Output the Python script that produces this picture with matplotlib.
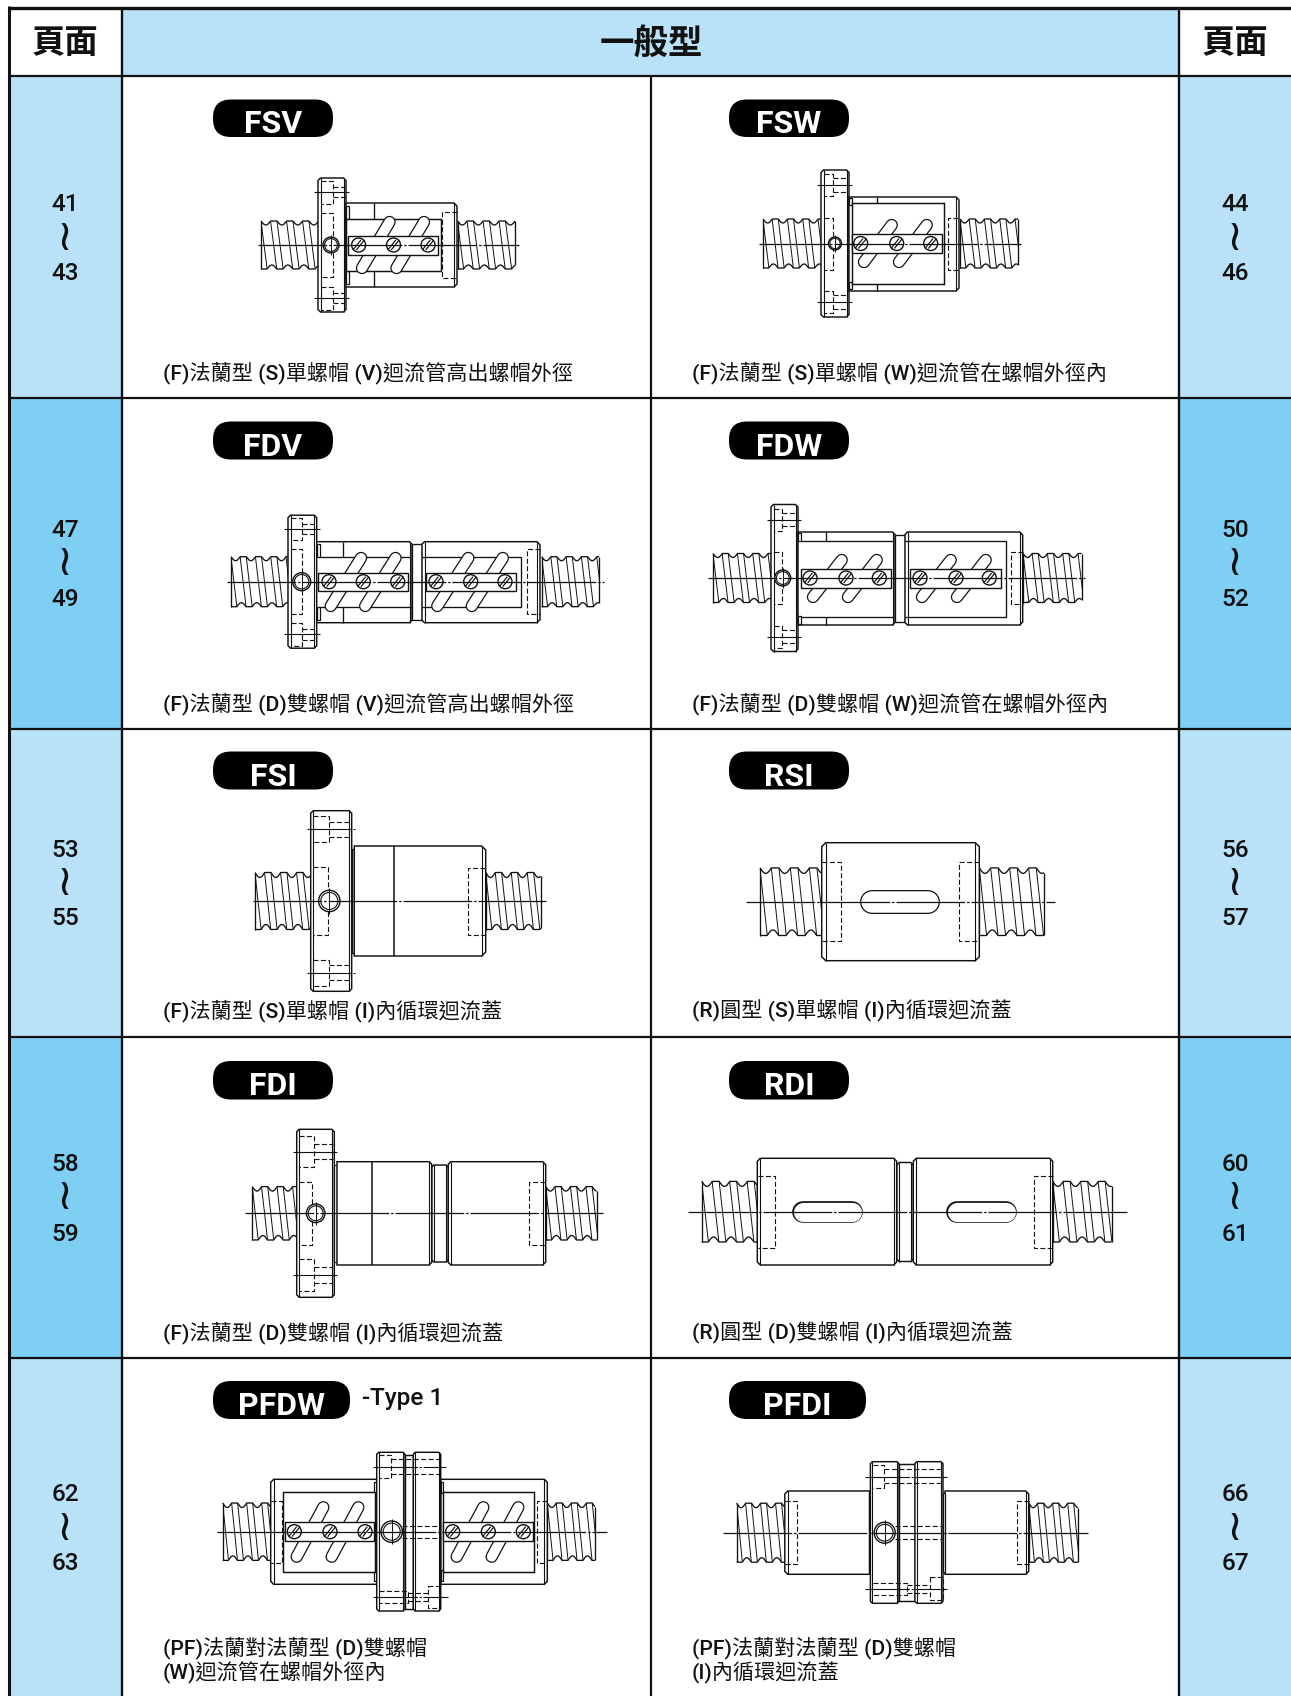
import numpy as np
import matplotlib
matplotlib.use('Agg')
import matplotlib.pyplot as plt
from matplotlib.patches import Rectangle, Circle, FancyBboxPatch

W, H = 1291, 1696
LIGHT = '#b9e2f9'
DARK = '#7fcff4'
INK = '#111111'

HEADER_SIDE = '頁面'
HEADER_MID = '一般型'
ROW_LINES = [76, 398, 729, 1037, 1358, 1696]
ROW_FILL = [LIGHT, DARK, LIGHT, DARK, LIGHT]

PAGES_LEFT = [('41', '43'), ('47', '49'), ('53', '55'), ('58', '59'), ('62', '63')]
PAGES_RIGHT = [('44', '46'), ('50', '52'), ('56', '57'), ('60', '61'), ('66', '67')]
PAGE_Y = [(203, 238, 272), (529, 563, 598), (849, 883, 917), (1163, 1197, 1233), (1493, 1528, 1562)]

NAMES_LEFT = ['FSV', 'FDV', 'FSI', 'FDI', 'PFDW']
NAMES_RIGHT = ['FSW', 'FDW', 'RSI', 'RDI', 'PFDI']
PILL_Y = [(99.5, 137), (421.5, 459.5), (751.5, 789.5), (1061, 1099.5), (1381, 1419)]

CAPTIONS_LEFT = ['(F)法蘭型 (S)單螺帽 (V)迴流管高出螺帽外徑',
                 '(F)法蘭型 (D)雙螺帽 (V)迴流管高出螺帽外徑',
                 '(F)法蘭型 (S)單螺帽 (I)內循環迴流蓋',
                 '(F)法蘭型 (D)雙螺帽 (I)內循環迴流蓋',
                 '(PF)法蘭對法蘭型 (D)雙螺帽\n(W)迴流管在螺帽外徑內']
CAPTIONS_RIGHT = ['(F)法蘭型 (S)單螺帽 (W)迴流管在螺帽外徑內',
                  '(F)法蘭型 (D)雙螺帽 (W)迴流管在螺帽外徑內',
                  '(R)圓型 (S)單螺帽 (I)內循環迴流蓋',
                  '(R)圓型 (D)雙螺帽 (I)內循環迴流蓋',
                  '(PF)法蘭對法蘭型 (D)雙螺帽\n(I)內循環迴流蓋']
CAPTION_Y = [373, 704, 1011, 1333, 1660]

plt.rcParams['font.family'] = ['Roboto', 'Noto Sans CJK TC', 'DejaVu Sans']

fig = plt.figure(figsize=(W / 100, H / 100), dpi=100)
ax = fig.add_axes([0, 0, 1, 1])
ax.set_xlim(0, W)
ax.set_ylim(H, 0)
ax.axis('off')


def seg(xs, ys, lw=0.95, ls='-', z=3, color=INK):
    return ax.plot(xs, ys, color=color, lw=lw, ls=ls, zorder=z, solid_capstyle='butt',
                   dash_capstyle='butt')[0]


def dashed(xs, ys, z=4):
    seg(xs, ys, lw=0.8, ls=(0, (4.5, 2.2)), z=z)


def center(x0, x1, cy):
    seg([x0, x1], [cy, cy], lw=0.9, ls=(0, (55, 1.5, 2, 1.5)), z=8)


def tick(x0, x1, y):
    seg([x0, x1], [y, y], lw=0.8, ls=(0, (40, 1.5, 2, 1.5)), z=8)


def screw(x0, x1, cy, hh, pitch=15.3, depth=4, phase=0):
    lean = 0.38 * pitch
    xs = np.linspace(x0, x1, 240)
    t = ((xs - x0 - phase) / pitch) % 1
    top = cy - hh + np.where(t < 0.6, depth * np.sin(np.pi * np.minimum(t, 0.6) / 0.6), 0)
    t = ((xs - x0 - phase - lean) / pitch) % 1
    bot = cy + hh - np.where(t < 0.6, depth * np.sin(np.pi * np.minimum(t, 0.6) / 0.6), 0)
    seg(xs, top, z=2)
    seg(xs, bot, z=2)
    seg([x0, x0], [top[0], bot[0]], z=2)
    seg([x1, x1], [top[-1], bot[-1]], z=2)
    clip = Rectangle((x0, cy - hh - 1), x1 - x0, 2 * hh + 2, transform=ax.transData)
    k = -3
    while x0 + phase + k * pitch < x1:
        for f in (0, 0.6):
            a = x0 + phase + (k + f) * pitch
            ln = seg([a, a + lean], [cy - hh + 0.5, cy + hh - 0.5], lw=0.7, z=2)
            ln.set_clip_path(clip)
        k += 1


def body(x0, x1, y0, y1, cl=0, cr=0, z=3):
    px = [x0 + cl, x1 - cr, x1, x1, x1 - cr, x0 + cl, x0, x0, x0 + cl]
    py = [y0, y0, y0 + cr, y1 - cr, y1, y1, y1 - cl, y0 + cl, y0]
    ax.fill(px, py, facecolor='white', edgecolor=INK, lw=1.05, zorder=z)
    if cl:
        seg([x0 + cl, x0 + cl], [y0, y1], lw=0.8, z=z)
    if cr:
        seg([x1 - cr, x1 - cr], [y0, y1], lw=0.8, z=z)


def dash_box(x0, x1, y0, y1, open_side=None):
    if open_side == 'right':
        dashed([x1, x0, x0, x1], [y0, y0, y1, y1])
    elif open_side == 'left':
        dashed([x0, x1, x1, x0], [y0, y0, y1, y1])
    else:
        dashed([x0, x1, x1, x0, x0], [y0, y0, y1, y1, y0])


def hole(x, cy, r):
    ax.add_patch(Circle((x, cy), r, fc='white', ec=INK, lw=1.0, zorder=5))
    ax.add_patch(Circle((x, cy), r * 0.8, fc='none', ec=INK, lw=0.8, zorder=5))
    seg([x, x], [cy - r - 2, cy + r + 2], lw=0.7, z=5)


def flange(x0, x1, cy, hh, xm, tk, box_h, dh, hx, hr, dx1, dash_hh):
    body(x0, x1, cy - hh, cy + hh, 2.5, 2.5)
    for sgn in (-1, 1):
        yc = cy + sgn * tk
        dash_box(x0 + 2.5, xm, yc - box_h, yc + box_h, 'left')
        dashed([xm, x1 - 1], [yc - dh, yc - dh])
        dashed([xm, x1 - 1], [yc + dh, yc + dh])
        tick(x0 - 4, x1 + 3, yc)
    dash_box(x0 + 2.5, dx1, cy - dash_hh, cy + dash_hh, 'left')
    hole(hx, cy, hr)


def capsule(x0, y0, x1, y1, r=6.2):
    w = 2 * r * 0.72
    ax.plot([x0, x1], [y0, y1], color=INK, lw=w, solid_capstyle='round', zorder=4)
    ax.plot([x0, x1], [y0, y1], color='white', lw=w - 1.8, solid_capstyle='round', zorder=4.1)


def slot_screw(x, cy, r=7):
    ax.add_patch(Circle((x, cy), r, fc='white', ec=INK, lw=1.0, zorder=6))
    for off in (-1.7, 1.7):
        dx = r * 0.58
        dy = r * 0.72
        seg([x - dx + off, x + dx + off], [cy + dy, cy - dy], lw=0.85, z=6)


def plate(x0, x1, cy, hh, screws, tubes, ty0, ty1, r=6.2):
    for xt, xb in tubes:
        capsule(xt, ty0, xb, ty1, r)
    ax.add_patch(Rectangle((x0, cy - hh), x1 - x0, 2 * hh, fc='white', ec=INK, lw=1.0, zorder=5))
    for sx in screws:
        slot_screw(sx, cy)


def slot(x0, x1, y0, y1):
    r = (y1 - y0) / 2
    capsule(x0 + r, (y0 + y1) / 2, x1 - r, (y0 + y1) / 2, r)


def vline(x, y0, y1, lw=0.95, z=4):
    seg([x, x], [y0, y1], lw=lw, z=z)


def step(x0, x1, y0, y1):
    ax.add_patch(Rectangle((x0, y0), x1 - x0, y1 - y0, fc='white', ec=INK, lw=0.9, zorder=3))


# table background and grid
ax.add_patch(Rectangle((122, 8), W - 122, 68, fc=LIGHT, ec='none', zorder=0))
ax.add_patch(Rectangle((1179, 8), W - 1179, 68, fc='white', ec='none', zorder=0.5))
for i, c in enumerate(ROW_FILL):
    ax.add_patch(Rectangle((9, ROW_LINES[i]), 113, ROW_LINES[i + 1] - ROW_LINES[i], fc=c, ec='none', zorder=0))
    ax.add_patch(Rectangle((1179, ROW_LINES[i]), W - 1179, ROW_LINES[i + 1] - ROW_LINES[i], fc=c, ec='none', zorder=0))
ax.plot([8.5, W], [7.5, 7.5], color=INK, lw=2.4, zorder=1, solid_capstyle='butt')
ax.plot([9, 9], [6, H], color=INK, lw=2.2, zorder=1, solid_capstyle='butt')
for y in ROW_LINES[:-1]:
    ax.plot([9, W], [y, y], color=INK, lw=1.6, zorder=1, solid_capstyle='butt')
for x in (122, 1179):
    ax.plot([x, x], [7, H], color=INK, lw=1.7, zorder=1, solid_capstyle='butt')
ax.plot([651, 651], [76, H], color=INK, lw=1.6, zorder=1, solid_capstyle='butt')

# header
ax.text(65, 44, HEADER_SIDE, ha='center', va='center', fontsize=24, fontweight='bold',
        family=['Noto Sans CJK TC'], color=INK)
ax.text(1235, 44, HEADER_SIDE, ha='center', va='center', fontsize=24, fontweight='bold',
        family=['Noto Sans CJK TC'], color=INK)
ax.text(651, 44, HEADER_MID, ha='center', va='center', fontsize=24.8, fontweight='bold',
        family=['Noto Sans CJK TC'], color=INK)

# page numbers
for pages, x in ((PAGES_LEFT, 65), (PAGES_RIGHT, 1235)):
    for (a, b), (y0, y1, y2) in zip(pages, PAGE_Y):
        ax.text(x, y0 + 1.5, a, ha='center', va='center', fontsize=17.5, fontweight='medium', color=INK)
        ax.text(x, y1, '≀', ha='center', va='center', fontsize=31,
                family=['DejaVu Sans'], color=INK)
        ax.text(x, y2 + 1.5, b, ha='center', va='center', fontsize=17.5, fontweight='medium', color=INK)

# name pills
for names, x0 in ((NAMES_LEFT, 213), (NAMES_RIGHT, 729)):
    for name, (y0, y1) in zip(names, PILL_Y):
        wd = 120 if len(name) == 3 else 137
        ax.add_patch(FancyBboxPatch((x0, y0), wd, y1 - y0, boxstyle='round,pad=0,rounding_size=18',
                                    fc='black', ec='none', zorder=5))
        ax.text(x0 + wd / 2, (y0 + y1) / 2 + 6, name, ha='center', va='center', fontsize=23,
                fontweight='bold', color='white', zorder=6)
ax.text(362, 1399, '-Type 1', ha='left', va='center', fontsize=17.6, fontweight='medium', color=INK)

# captions
for caps, x in ((CAPTIONS_LEFT, 163), (CAPTIONS_RIGHT, 692)):
    for cap, y in zip(caps, CAPTION_Y):
        ax.text(x, y, cap, ha='left', va='center', fontsize=15.2, fontweight='medium',
                color=INK, linespacing=1.17)

# FSV
cy = 245
screw(261, 318, cy, 24, pitch=16)
screw(457.5, 515, cy, 24, pitch=16)
flange(318, 346, cy, 67, 332.5, 53, 11.5, 4.7, 331, 8, 332.5, 32)
body(346, 457, 203, 287, 0, 3)
step(346, 349, 206, 219)
step(346, 349, 271, 284)
body(346, 441, 219, 271, z=3.2)
vline(373.7, 203, 219)
vline(373.7, 271, 287)
plate(348, 438, cy, 9.5, [358.6, 393.5, 428], [(389.5, 362), (424, 396.5)], 222, 268)
dash_box(442, 456.5, 212, 278, 'right')
center(257.5, 518.5, cy)

# FSW
cy = 243.5
screw(763, 822, cy, 24.5)
screw(960, 1018, cy, 24.5)
flange(821, 849, cy, 73.5, 833.3, 58.5, 11, 6.7, 835, 6.5, 832.7, 26)
body(849, 959, 197, 291, 0, 3)
step(849, 852, 198, 205)
step(849, 852, 282, 289)
body(851.7, 944, 202.5, 284, z=3.2)
vline(876.7, 197, 202.5)
vline(876.7, 284, 291)
plate(851.7, 941.7, cy, 9.5, [860.7, 896.7, 930.7], [(891.7, 864), (926.7, 899)], 225, 262)
dash_box(947.7, 958, cy - 26, cy + 26, 'right')
center(759, 1021, cy)

# FDV
cy = 581.7
screw(231, 288, cy, 25)
screw(541.7, 599, cy, 25)
flange(288, 316.7, cy, 66.5, 301.7, 52.7, 11.3, 5.3, 301.7, 9, 301.7, 32.5)
body(422, 540, 541.7, 622.7, 2.5, 3)
body(316.7, 412, 541.7, 622.7, 0, 2.5)
step(316.7, 319.5, 544, 557)
step(316.7, 319.5, 607, 620)
seg([412, 422, 422, 412], [544, 544, 620, 620], z=2.5)
vline(412, 544, 620)
seg([319, 412], [557, 557], z=3.2)
seg([319, 412], [607, 607], z=3.2)
seg([422, 520.7, 520.7, 422], [557, 557, 607, 607], z=3.2)
vline(343, 541.7, 557)
vline(343, 607, 622.7)
plate(318.3, 408.3, cy, 9, [329, 363.3, 397.7], [(361, 330.7), (395.5, 365.2)], 558, 606)
plate(425.7, 515.7, cy, 9, [436, 470.7, 505], [(468.3, 437.3), (502.8, 471.8)], 558, 606)
dash_box(526.7, 540, 549, 614, 'right')
center(226.7, 604, cy)

# FDW
cy = 578
screw(713, 771, cy, 24.5)
screw(1023, 1081.7, cy, 24.5)
flange(771, 798, cy, 73.5, 782.3, 58.5, 11, 6.7, 782.7, 8, 781.5, 26)
body(905, 1022.7, 532, 625, 2.5, 3)
body(798, 895, 532, 625, 0, 2.5)
step(798, 801, 533, 541)
step(798, 801, 616, 624)
seg([895, 905, 905, 895], [535, 535, 622, 622], z=2.5)
vline(895, 535, 622)
seg([801, 894], [540.7, 540.7], z=3.2)
seg([801, 894], [617, 617], z=3.2)
seg([905, 1005.7, 1005.7, 905], [540.7, 540.7, 617, 617], z=3.2)
vline(825.7, 532, 540.7)
vline(825.7, 617, 625)
plate(800.7, 890.7, cy, 9.5, [810, 846, 879.3], [(841.7, 813), (876.7, 848)], 560, 597)
plate(910, 1000.7, cy, 9.5, [920, 956, 989.3], [(950.7, 922), (985.7, 957)], 560, 597)
dash_box(1011, 1022.7, cy - 26, cy + 26, 'right')
center(708, 1085, cy)

# FSI
cy = 901
screw(255, 310.7, cy, 28.5, pitch=16, depth=5)
screw(485.7, 540.7, cy, 28.5, pitch=16, depth=5)
flange(310.7, 351.7, cy, 90.3, 329.3, 71.7, 13, 7.5, 329.3, 10.7, 327.7, 34)
step(351.7, 354.3, 849, 953)
body(354.3, 485.7, 846, 956, 0, 4)
vline(394.3, 846, 956, lw=1.1)
dash_box(468.3, 485, cy - 33.5, cy + 33.5, 'right')
center(253, 546, cy)

# RSI
cy = 901.7
screw(760, 821.7, cy, 33.8, pitch=19, depth=5.5)
screw(979.3, 1044, cy, 33.8, pitch=19, depth=5.5)
body(821.7, 979.3, 842.7, 960.7, 4, 4)
dash_box(822, 841, 862, 941, 'left')
dash_box(958.7, 979, 862, 941, 'right')
slot(860, 940, 890, 914)
center(745.7, 1055, cy)

# FDI
cy = 1213.3
screw(252.3, 296.7, cy, 26.7, pitch=15.5, depth=4.5)
screw(545.7, 596.7, cy, 26.7, pitch=15.5, depth=4.5)
flange(296.7, 334.3, cy, 84, 314, 61.7, 15.7, 7.7, 315.7, 9.3, 312.3, 31.3)
step(334.3, 337, 1165, 1262)
body(431.7, 448.3, 1165, 1262, 2.2, 2.2, z=2.8)
body(337, 431.7, 1161.7, 1265, 0, 2.5)
body(448.3, 545.7, 1161.7, 1265, 2.5, 3)
vline(371.7, 1161.7, 1265, lw=1.1)
dash_box(529.3, 545, cy - 31.3, cy + 31.3, 'right')
center(245, 602.7, cy)

# RDI
cy = 1211.7
screw(701.7, 757.3, cy, 30.3, pitch=17.5, depth=5)
screw(1052.7, 1111.7, cy, 30.3, pitch=17.5, depth=5)
body(896.7, 913.3, 1162.5, 1261.5, 2.5, 2.5, z=2.8)
body(757.3, 896.7, 1158.3, 1265, 3, 3)
body(913.3, 1052.7, 1158.3, 1265, 3, 3)
dash_box(757.5, 775, 1176, 1247.7, 'left')
dash_box(1034.3, 1052.5, 1176, 1247.7, 'right')
slot(792.3, 863.3, 1201, 1222.7)
slot(946, 1017.3, 1201, 1222.7)
center(688.3, 1126.7, cy)

# PFDW
cy = 1531.7
screw(222.7, 270.7, cy, 28.7, pitch=15, depth=4.5)
screw(547.3, 595, cy, 28.7, pitch=15, depth=4.5)
body(270.7, 376.7, 1479.3, 1584.3, 3, 0)
body(440.7, 547.3, 1479.3, 1584.3, 0, 3)
body(283.3, 375, 1492.3, 1571.7, z=3.2)
body(443.3, 534.3, 1492.3, 1571.7, z=3.2)
step(374, 376.7, 1482, 1493)
step(374, 376.7, 1570, 1581)
step(440.7, 443.3, 1482, 1493)
step(440.7, 443.3, 1570, 1581)
body(405, 413.3, 1455, 1609, z=2.8)
body(376.7, 405, 1452.3, 1611, 2, 2)
body(413.3, 440.7, 1452.3, 1611, 2, 2)
plate(285, 374.3, cy, 9.5, [294.3, 330, 365], [(323.3, 296.7), (358.3, 331.7)], 1507.3, 1556.7)
plate(443.3, 533.3, cy, 9.5, [452.7, 488.3, 523.3], [(483.3, 456.7), (518.3, 491.7)], 1507.3, 1556.7)
dash_box(270.9, 281.7, 1501, 1562.7, 'left')
dash_box(537.3, 547.2, 1501, 1562.7, 'right')
dash_box(379, 390.7, 1455, 1478.3, 'left')
dashed([390.7, 440.5], [1459.3, 1459.3])
dashed([390.7, 440.5], [1474, 1474])
tick(373.3, 446, 1466.7)
dash_box(379, 408, 1590.7, 1602.7, 'left')
dashed([408, 428], [1592.7, 1592.7])
dashed([408, 428], [1600.7, 1600.7])
dash_box(427.7, 440, 1585.7, 1608.3)
tick(373.3, 448.3, 1596.7)
dashed([401.7, 440.5], [1525.7, 1525.7])
dashed([401.7, 440.5], [1537.7, 1537.7])
hole(391.7, cy, 10.7)
center(216.7, 606.7, cy)

# PFDI
cy = 1532.7
screw(736.6, 784.8, cy, 29.5, pitch=15, depth=4.5)
screw(1028.7, 1078, cy, 29.5, pitch=15, depth=4.5)
body(784.8, 869.6, 1491, 1574.3, 3, 0)
body(945, 1028.7, 1491, 1574.3, 0, 3)
step(868.5, 870.4, 1493, 1572)
step(943, 945, 1493, 1572)
body(899, 914.9, 1464.3, 1600.7, z=2.8)
body(870.4, 899, 1461.7, 1603.3, 2, 2)
body(914.9, 943, 1461.7, 1603.3, 2, 2)
dash_box(785, 797.2, 1501, 1564.3, 'left')
dash_box(1016.6, 1028.5, 1501, 1564.3, 'right')
dash_box(872.5, 884, 1465, 1488.3, 'left')
dashed([884, 942.5], [1469.3, 1469.3])
dashed([884, 942.5], [1483.3, 1483.3])
tick(864.7, 947, 1476.7)
dash_box(872.5, 907.3, 1582.7, 1595, 'left')
dashed([907.3, 930], [1585, 1585])
dashed([907.3, 930], [1592.7, 1592.7])
dash_box(930, 942.5, 1577.3, 1600)
tick(864.7, 947, 1589)
dashed([895, 942.5], [1526, 1526])
dashed([895, 942.5], [1539, 1539])
hole(884.7, cy, 10.5)
center(722.6, 1087.5, cy)

fig.savefig('out.png', dpi=100)
